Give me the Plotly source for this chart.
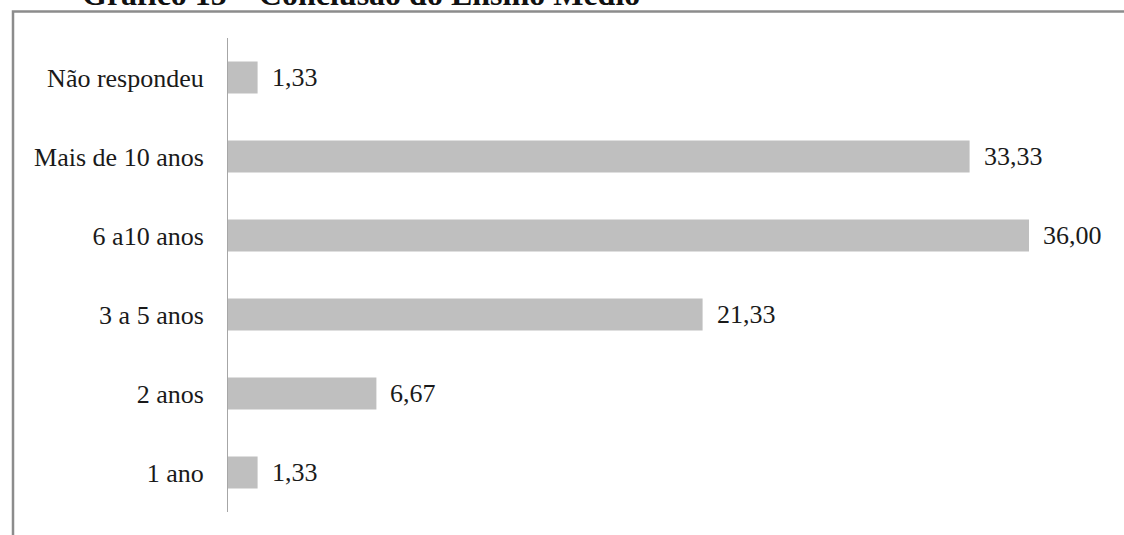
import plotly.graph_objects as go

# Tempo desde a conclusão do Ensino Médio (%)
categorias = ["1 ano", "2 anos", "3 a 5 anos", "6 a10 anos", "Mais de 10 anos", "Não respondeu"]
percentuais = [1.33, 6.67, 21.33, 36.00, 33.33, 1.33]
rotulos = [f"{v:.2f}".replace(".", ",") for v in percentuais]

W, H = 1124, 535
ML, MR, MT, MB = 228, 6, 38, 23
XMAX = 40.0
FONT = "Liberation Serif, Times New Roman, serif"

fig = go.Figure(
    go.Bar(
        x=percentuais,
        y=categorias,
        orientation="h",
        marker=dict(color="#bfbfbf", line=dict(width=0)),
        width=0.405,
        hoverinfo="skip",
    )
)

# value labels to the right of each bar
for cat, val, txt in zip(categorias, percentuais, rotulos):
    fig.add_annotation(
        x=val, y=cat, text=txt, showarrow=False,
        xanchor="left", yanchor="middle", xshift=12,
        font=dict(family=FONT, size=26, color="#1a1a1a"),
    )

# convert pixel positions to paper coordinates for the frame and title
pw = W - ML - MR
ph = H - MT - MB
def px_x(px):
    return (px - ML) / pw
def px_y(py):
    return (H - MB - py) / ph

# outer frame (open to the right and bottom)
fig.add_shape(
    type="rect", xref="paper", yref="paper",
    x0=px_x(13), x1=px_x(W + 20), y0=px_y(H + 20), y1=px_y(11.5),
    line=dict(color="#8c8c8c", width=2.5), fillcolor="rgba(0,0,0,0)",
    layer="below",
)

fig.add_annotation(
    xref="paper", yref="paper", x=px_x(80), y=px_y(14),
    xanchor="left", yanchor="bottom",
    text="<b>Gráfico 15 – Conclusão do Ensino Médio</b>", showarrow=False,
    font=dict(family=FONT, size=32, color="#111111"),
)

fig.update_layout(
    width=W, height=H,
    margin=dict(l=ML, r=MR, t=MT, b=MB, pad=0),
    paper_bgcolor="white", plot_bgcolor="white",
    showlegend=False,
    xaxis=dict(range=[0, XMAX], visible=False, fixedrange=True),
    yaxis=dict(
        categoryorder="array", categoryarray=categorias,
        showline=True, linecolor="#a6a6a6", linewidth=1,
        showgrid=False, zeroline=False, ticks="",
        ticklabelstandoff=18,
        tickfont=dict(family=FONT, size=26, color="#1a1a1a"),
        fixedrange=True,
    ),
)

fig.write_html("out.html")
